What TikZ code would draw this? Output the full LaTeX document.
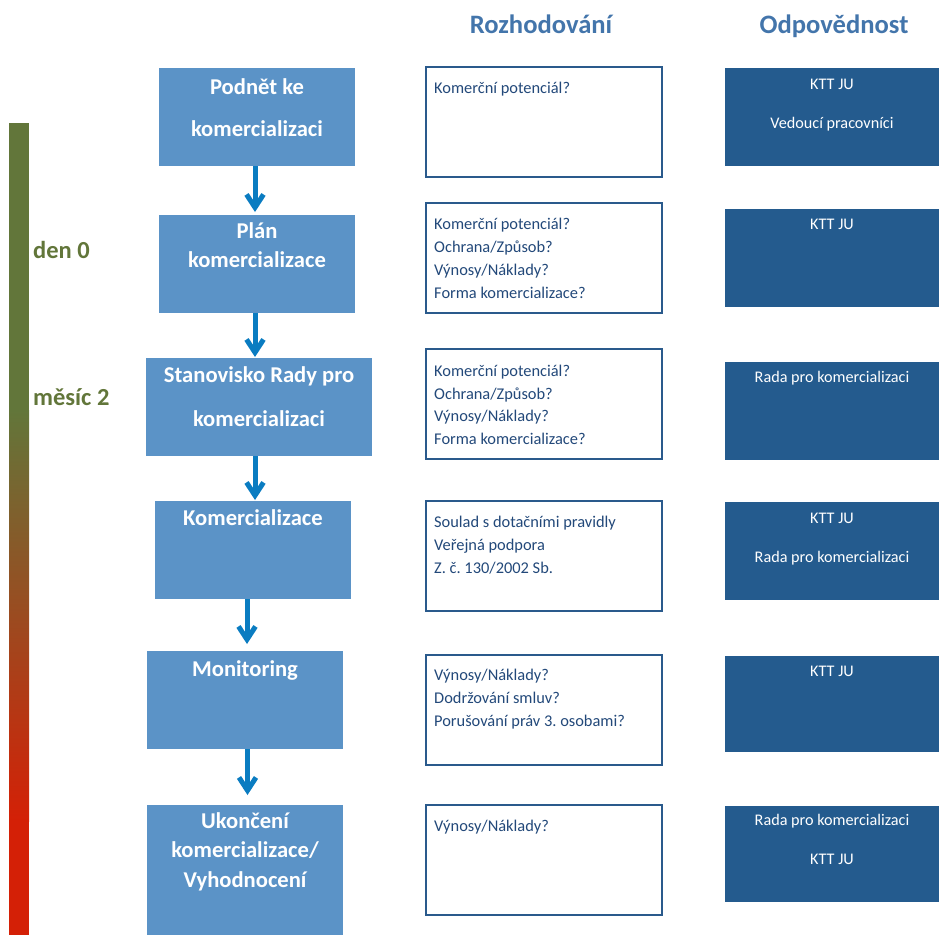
\documentclass[tikz,border=0pt]{standalone}
\usepackage{fontspec}
\setmainfont{Carlito}
\frenchspacing
\usetikzlibrary{arrows.meta}
\definecolor{lfill}{HTML}{5B93C7}
\definecolor{rfill}{HTML}{245B8E}
\definecolor{mborder}{HTML}{2A5A8C}
\definecolor{mtext}{HTML}{23497A}
\definecolor{headc}{HTML}{4375AB}
\definecolor{arrc}{HTML}{0A7CC1}
\definecolor{gbar}{HTML}{62763A}
\definecolor{rbar}{HTML}{D42006}
\tikzset{
  lbox/.style={fill=lfill, draw=none, inner sep=0pt, outer sep=0pt, anchor=north west},
  mbox/.style={draw=mborder, line width=2pt, fill=white, inner sep=0pt, outer sep=0pt, anchor=north west, minimum width=236pt, minimum height=110pt},
  rbox/.style={fill=rfill, draw=none, inner sep=0pt, outer sep=0pt, anchor=north west, minimum width=214pt},
  ltext/.style={text=white, font=\fontsize{22.6pt}{26pt}\selectfont\bfseries, anchor=base, inner sep=0pt},
  mtextst/.style={text=mtext, font=\fontsize{16.4pt}{19pt}\selectfont, anchor=base west, inner sep=0pt},
  rtext/.style={text=white, font=\fontsize{16.2pt}{19pt}\selectfont, anchor=base, inner sep=0pt},
  head/.style={text=headc, font=\fontsize{26.6pt}{30pt}\selectfont\bfseries, anchor=base, inner sep=0pt},
  side/.style={text=gbar, font=\fontsize{24.5pt}{28pt}\selectfont\bfseries, anchor=base west, inner sep=0pt},
  arr/.style={draw=arrc, line width=5pt, -{Straight Barb[length=13pt,width=17pt,line width=5pt]}}
}
\begin{document}
\begin{tikzpicture}[x=1pt,y=-1pt]
\useasboundingbox (0,0) rectangle (939,935);
% gradient bar
\fill[gbar] (9,123) rectangle (29,411);
\shade[top color=gbar, bottom color=rbar] (9,410) rectangle (29,821);
\fill[rbar] (9,820) rectangle (29,935);
\node[side] (den) at (33,258) {den 0};
\node[side] (mesic) at (33,405) {měsíc 2};
% headers
\node[head] (h1) at (541,33) {Rozhodování};
\node[head] (h2) at (834,33) {Odpovědnost};
% left boxes
\node[lbox, minimum width=196pt, minimum height=98pt] (b1) at (159,68) {};
\node[lbox, minimum width=196pt, minimum height=98pt] (b2) at (159,215) {};
\node[lbox, minimum width=226pt, minimum height=98pt] (b3) at (146,358) {};
\node[lbox, minimum width=196pt, minimum height=98pt] (b4) at (155,501) {};
\node[lbox, minimum width=196pt, minimum height=98pt] (b5) at (147,651) {};
\node[lbox, minimum width=196pt, minimum height=130pt] (b6) at (147,805) {};
\node[ltext] (b1a) at (257,94) {Podnět ke};
\node[ltext] (b1b) at (257,136) {komercializaci};
\node[ltext] (b2a) at (257,238) {Plán};
\node[ltext] (b2b) at (257,267) {komercializace};
\node[ltext] (b3a) at (259,382) {Stanovisko Rady pro};
\node[ltext] (b3b) at (259,426) {komercializaci};
\node[ltext] (b4a) at (253,525) {Komercializace};
\node[ltext] (b5a) at (245,676) {Monitoring};
\node[ltext] (b6a) at (245,828) {Ukončení};
\node[ltext] (b6b) at (245,857) {komercializace/};
\node[ltext] (b6c) at (245,887) {Vyhodnocení};
% arrows
\draw[arr] ([xshift=-2pt]b1.south) -- ([xshift=-2pt,yshift=3pt]b1.south |- b2.north);
\draw[arr] ([xshift=-2pt]b2.south) -- ([xshift=-2pt,yshift=1pt]b2.south |- b3.north);
\draw[arr] ([xshift=2pt]b4.north |- b3.south) -- ([xshift=2pt,yshift=1pt]b4.north);
\draw[arr] ([xshift=-6pt]b4.south) -- ([xshift=-6pt,yshift=7pt]b4.south |- b5.north);
\draw[arr] ([xshift=2.5pt]b5.south) -- ([xshift=2.5pt,yshift=10pt]b5.south |- b6.north);
% middle boxes
\node[mbox] (m1) at (426,67) {};
\node[mbox] (m2) at (426,203) {};
\node[mbox] (m3) at (426,349) {};
\node[mbox] (m4) at (426,501) {};
\node[mbox] (m5) at (426,655) {};
\node[mbox] (m6) at (426,805) {};
\node[mtextst] (m1a) at (434,93) {Komerční potenciál?};
\node[mtextst] (m2a) at (434,229) {Komerční potenciál?};
\node[mtextst] (m2b) at (434,252) {Ochrana/Způsob?};
\node[mtextst] (m2c) at (434,275) {Výnosy/Náklady?};
\node[mtextst] (m2d) at (434,298) {Forma komercializace?};
\node[mtextst] (m3a) at (434,376) {Komerční potenciál?};
\node[mtextst] (m3b) at (434,399) {Ochrana/Způsob?};
\node[mtextst] (m3c) at (434,421) {Výnosy/Náklady?};
\node[mtextst] (m3d) at (434,444) {Forma komercializace?};
\node[mtextst] (m4a) at (434,527) {Soulad s dotačními pravidly};
\node[mtextst] (m4b) at (434,550) {Veřejná podpora};
\node[mtextst] (m4c) at (434,573) {Z. č. 130/2002 Sb.};
\node[mtextst] (m5a) at (434,680) {Výnosy/Náklady?};
\node[mtextst] (m5b) at (434,703) {Dodržování smluv?};
\node[mtextst] (m5c) at (434,726) {Porušování práv 3. osobami?};
\node[mtextst] (m6a) at (434,831) {Výnosy/Náklady?};
% right boxes
\node[rbox, minimum height=98pt] (r1) at (725,68) {};
\node[rbox, minimum height=98pt] (r2) at (725,209) {};
\node[rbox, minimum height=98pt] (r3) at (725,362) {};
\node[rbox, minimum height=98pt] (r4) at (725,502) {};
\node[rbox, minimum height=96pt] (r5) at (725,656) {};
\node[rbox, minimum height=96pt] (r6) at (725,806) {};
\node[rtext] (r1a) at (832,89) {KTT JU};
\node[rtext] (r1b) at (832,128) {Vedoucí pracovníci};
\node[rtext] (r2a) at (832,229) {KTT JU};
\node[rtext] (r3a) at (832,382) {Rada pro komercializaci};
\node[rtext] (r4a) at (832,523) {KTT JU};
\node[rtext] (r4b) at (832,562) {Rada pro komercializaci};
\node[rtext] (r5a) at (832,676) {KTT JU};
\node[rtext] (r6a) at (832,825) {Rada pro komercializaci};
\node[rtext] (r6b) at (832,864) {KTT JU};
\end{tikzpicture}
\end{document}
